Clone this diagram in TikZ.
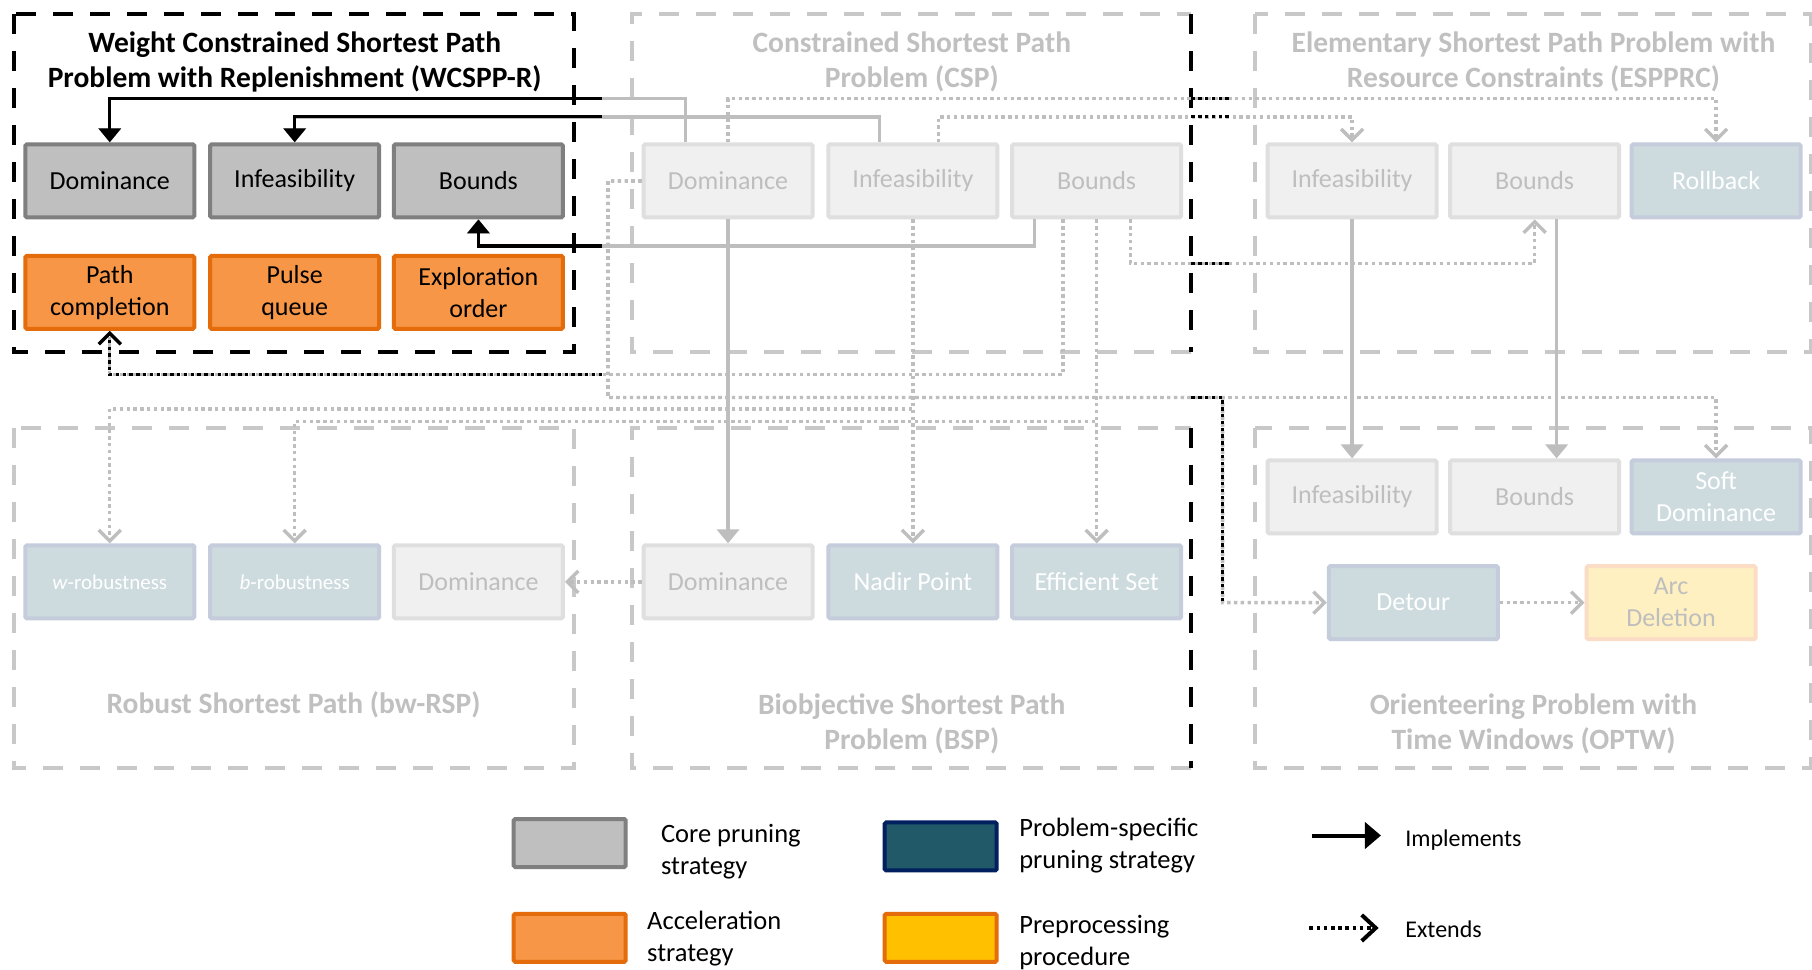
\documentclass[tikz,border=0pt]{standalone}
\usepackage{fontspec}
\setmainfont{Carlito}
\usetikzlibrary{arrows.meta,calc}
\definecolor{fadeline}{RGB}{200,200,200}
\definecolor{conng}{RGB}{190,190,190}
\definecolor{fadetext}{RGB}{192,192,192}
\definecolor{lightfill}{RGB}{240,240,240}
\definecolor{lightdraw}{RGB}{223,223,223}
\definecolor{lighttext}{RGB}{190,190,190}
\definecolor{psfadefill}{RGB}{205,219,223}
\definecolor{psfadedraw}{RGB}{197,204,219}
\definecolor{prefadefill}{RGB}{255,240,194}
\definecolor{prefadedraw}{RGB}{251,220,196}
\definecolor{corefill}{RGB}{191,191,191}
\definecolor{coredraw}{RGB}{127,127,127}
\definecolor{accfill}{RGB}{246,150,70}
\definecolor{accdraw}{RGB}{228,108,10}
\definecolor{psfill}{RGB}{33,89,104}
\definecolor{psdraw}{RGB}{0,32,96}
\definecolor{prefill}{RGB}{255,192,0}
\begin{document}
\begin{tikzpicture}[x=1.1556pt,y=-1.1556pt,
  grpg/.style={draw=fadeline, line width=4pt, dash pattern=on 20pt off 17pt},
  grpb/.style={draw=black, line width=4pt, dash pattern=on 20pt off 17pt},
  ttlb/.style={font=\bfseries\fontsize{29.5}{35}\selectfont, align=center},
  ttlg/.style={ttlb, text=fadetext},
  nbox/.style={draw, line width=4pt, rounded corners=1.5pt, minimum width=169pt, minimum height=73pt, inner sep=1pt, align=center, font=\fontsize{26}{32}\selectfont},
  core/.style={nbox, fill=corefill, draw=coredraw},
  accel/.style={nbox, fill=accfill, draw=accdraw},
  light/.style={nbox, fill=lightfill, draw=lightdraw, text=lighttext},
  psbox/.style={nbox, fill=psfadefill, draw=psfadedraw, text=white},
  prebox/.style={nbox, fill=prefadefill, draw=prefadedraw, text=lighttext},
  implg/.style={draw=conng, line width=3.4pt, -{Triangle[length=14pt,width=22pt]}},
  implb/.style={implg, draw=black},
  extg/.style={draw=conng, line width=3.4pt, dash pattern=on 3.4pt off 3.4pt, -{Straight Barb[length=11pt,width=22pt]}},
  extb/.style={extg, draw=black},
  dotb/.style={draw=black, line width=3.4pt, dash pattern=on 3.4pt off 3.4pt},
  legbox/.style={draw, line width=4pt, rounded corners=1.5pt, minimum width=112pt, minimum height=48pt},
  legtxt/.style={anchor=west, align=left, font=\fontsize{26.5}{32}\selectfont},
  legtxts/.style={anchor=west, font=\fontsize{24}{28}\selectfont}
]
\fill[white] (0,0) rectangle (1568,839);
\useasboundingbox (0,0) rectangle (1568,839);

% group boxes
\draw[grpb] (12,12) rectangle (497,305);
\draw[grpg] (1031,305) -- (547,305) -- (547,12) -- (1031,12);
\draw[grpb] (1031,12) -- (1031,305);
\draw[grpg] (1086,12) rectangle (1567,305);
\draw[grpg] (12,370) rectangle (497,665);
\draw[grpg] (1031,665) -- (547,665) -- (547,370) -- (1031,370);
\draw[grpb] (1031,370) -- (1031,665);
\draw[grpg] (1086,370) rectangle (1567,665);

% group titles
\node[ttlb] (t1) at (255,53.5) {Weight Constrained Shortest Path\\Problem with Replenishment (WCSPP-R)};
\node[ttlg] (t2) at (789,53.5) {Constrained Shortest Path\\Problem (CSP)};
\node[ttlg] (t3) at (1327,53.5) {Elementary Shortest Path Problem with\\Resource Constraints (ESPPRC)};
\node[ttlg] (t4) at (254,610) {Robust Shortest Path (bw-RSP)};
\node[ttlg] (t5) at (789,626) {Biobjective Shortest Path\\Problem (BSP)};
\node[ttlg] (t6) at (1327,626) {Orienteering Problem with\\Time Windows (OPTW)};

% WCSPP-R
\node[core] (wdom) at (95,156.5) {Dominance};
\node[core] (winf) at (255,156.5) {Infeasibility};
\node[core] (wbnd) at (414,156.5) {Bounds};
\node[accel] (wpath) at (95,253) {Path\\completion};
\node[accel] (wpulse) at (255,253) {Pulse\\queue};
\node[accel] (wexpl) at (414,253) {Exploration\\order};
% CSP
\node[light] (cdom) at (630,156.5) {Dominance};
\node[light] (cinf) at (790,156.5) {Infeasibility};
\node[light] (cbnd) at (949,156.5) {Bounds};
% ESPPRC
\node[light] (einf) at (1170,156.5) {Infeasibility};
\node[light] (ebnd) at (1328,156.5) {Bounds};
\node[psbox] (eroll) at (1485,156.5) {Rollback};
% bw-RSP
\node[psbox, font=\fontsize{21}{25}\selectfont] (rw) at (95,503.5) {\textit{w}-robustness};
\node[psbox, font=\fontsize{21}{25}\selectfont] (rb) at (255,503.5) {\textit{b}-robustness};
\node[light] (rdom) at (414,503.5) {Dominance};
% BSP
\node[light] (bdom) at (630,503.5) {Dominance};
\node[psbox] (bnad) at (790,503.5) {Nadir Point};
\node[psbox] (beff) at (949,503.5) {Efficient Set};
% OPTW
\node[light] (oinf) at (1170,430) {Infeasibility};
\node[light] (obnd) at (1328,430) {Bounds};
\node[psbox] (osoft) at (1485,430) {Soft\\Dominance};
\node[psbox] (odet) at (1223,521.5) {Detour};
\node[prebox] (oarc) at (1446,521.5) {Arc\\Deletion};

% split points
\coordinate (k1) at (521,85);
\coordinate (k2) at (521,101);
\coordinate (k3) at (521,213);
\coordinate (k4) at (521,324);
\coordinate (j1) at (1058,344);

% gray connectors
\draw[implg] ($(cdom.north)+(-37,0)$) -- ++(0,-38) -| (wdom.north);
\draw[implg] ($(cinf.north)+(-29,0)$) -- ++(0,-22) -| (winf.north);
\draw[implg] ($(cbnd.south)+(-54,0)$) -- ++(0,23) -| (wbnd.south);
\draw[extg] ($(cbnd.south)+(-29,0)$) -- ++(0,134) -| (wpath.south);
\draw[extg] (cdom.north) -- ++(0,-38) -| (eroll.north);
\draw[extg] ($(cinf.north)+(22,0)$) -- ++(0,-22) -| (einf.north);
\draw[extg] ($(cbnd.south)+(29,0)$) -- ++(0,38) -| (ebnd.south);
\draw[implg] (cdom.south) -- (bdom.north);
\draw[extg] (cinf.south) -- (bnad.north);
\draw[extg] (cbnd.south) -- (beff.north);
\draw[extg] (cinf.south) -- ++(0,164) -| (rw.north);
\draw[extg] (cbnd.south) -- ++(0,175) -| (rb.north);
\draw[extg] (bdom.west) -- (rdom.east);
\draw[extg] (cdom.west) -- ++(-29,0) -- ++(0,187.5) -| (osoft.north);
\draw[extg] (cdom.west) -- ++(-29,0) -- ++(0,187.5) -- (j1) |- (odet.west);
\draw[implg] (einf.south) -- (oinf.north);
\draw[implg] ($(ebnd.south)+(19,0)$) -- ($(obnd.north)+(19,0)$);
\draw[extg] (odet.east) -- (oarc.west);

% black (highlighted) parts
\draw[implb] (k1) -| (wdom.north);
\draw[implb] (k2) -| (winf.north);
\draw[implb] (k3) -| (wbnd.south);
\draw[extb] (k4) -| (wpath.south);
\draw[dotb] (1031,85) -- (1065,85);
\draw[dotb] (1031,101) -- (1065,101);
\draw[dotb] (1031,228) -- (1065,228);
\draw[dotb] (1031,344) -- (j1) -- (1058,521.5);

% legend
\node[legbox, fill=corefill, draw=coredraw] (lcore) at (493,729.5) {};
\node[legtxt] (lcoret) at (569,737) {Core pruning\\strategy};
\node[legbox, fill=accfill, draw=accdraw] (lacc) at (493,811.5) {};
\node[legtxt] (lacct) at (557,812) {Acceleration\\strategy};
\node[legbox, fill=psfill, draw=psdraw] (lps) at (814,732.5) {};
\node[legtxt] (lpst) at (879,732) {Problem-specific\\pruning strategy};
\node[legbox, fill=prefill, draw=accdraw] (lpre) at (814,811.5) {};
\node[legtxt] (lpret) at (879,815.5) {Preprocessing\\procedure};
\coordinate (li1) at (1135,723);
\coordinate (li2) at (1195,723);
\coordinate (le1) at (1133,803);
\coordinate (le2) at (1193,803);
\draw[draw=black, line width=4pt, -{Triangle[length=16pt,width=26pt]}] (li1) -- (li2);
\draw[draw=black, line width=4pt, dash pattern=on 3.6pt off 3.6pt, -{Straight Barb[length=14pt,width=26pt]}] (le1) -- (le2);
\node[legtxts] (limp) at (1213,727) {Implements};
\node[legtxts] (lext) at (1213,804) {Extends};
\end{tikzpicture}
\end{document}
